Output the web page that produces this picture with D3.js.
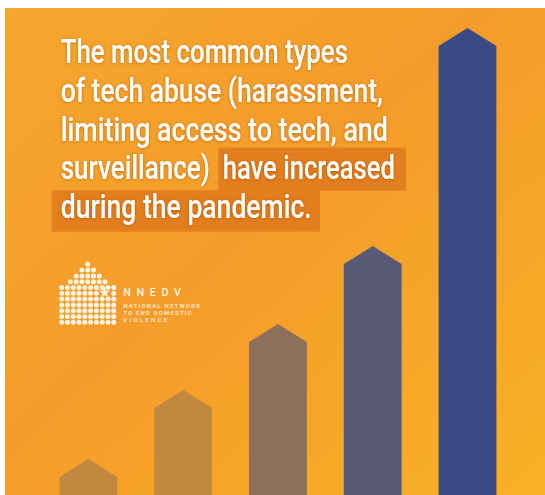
<!DOCTYPE html>
<html>
<head>
<meta charset="utf-8">
<script src="https://cdn.jsdelivr.net/npm/d3@7"></script>
<style>
  html, body { margin: 0; padding: 0; background: #ffffff; }
  svg { display: block; }
</style>
</head>
<body>
<svg id="chart" width="545" height="495"></svg>
<script>
// ---- data ----
const categories = ["Level 1", "Level 2", "Level 3", "Level 4", "Level 5"];
const values = [7.7, 22.5, 36.6, 53.3, 100];
const barColors = ["#C2883F", "#C3883F", "#8C705B", "#5A5A77", "#3A4A84"];
const titleLines = [
  "The most common types",
  "of tech abuse (harassment,",
  "limiting access to tech, and",
  "surveillance)",
  "during the pandemic."
];
const highlightText = "have increased";
const logoTitle = "NNEDV";
const logoLines = ["NATIONAL NETWORK", "TO END DOMESTIC", "VIOLENCE"];

// ---- drawing ----
const svg = d3.select("#chart");
const W = 545, H = 495;
const defs = svg.append("defs");

const bg = defs.append("linearGradient").attr("id", "bg")
  .attr("x1", "0%").attr("y1", "0%").attr("x2", "100%").attr("y2", "100%");
bg.append("stop").attr("offset", "0%").attr("stop-color", "#F6A72C");
bg.append("stop").attr("offset", "45%").attr("stop-color", "#F49C2A");
bg.append("stop").attr("offset", "100%").attr("stop-color", "#F8B125");

const glow = defs.append("filter").attr("id", "glow")
  .attr("x", "-10%").attr("y", "-30%").attr("width", "120%").attr("height", "160%");
glow.append("feDropShadow").attr("dx", 0).attr("dy", 0.5)
  .attr("stdDeviation", 1.6).attr("flood-color", "#8a4200").attr("flood-opacity", 0.55);

svg.append("rect").attr("x", 5).attr("y", 8).attr("width", W - 5).attr("height", H - 8)
  .attr("fill", "url(#bg)");

// bars (arrows)
const x = d3.scaleBand().domain(categories).range([59.5, 496.4]).paddingInner(0.39).paddingOuter(0);
const y = d3.scaleLinear().domain([0, 100]).range([495, 28]);
const head = 18;
svg.append("g").selectAll("path").data(categories).join("path")
  .attr("d", (c, i) => {
    const x0 = x(c), x1 = x(c) + x.bandwidth(), xm = x(c) + x.bandwidth() / 2;
    const top = y(values[i]);
    return `M${x0},${H + 5}L${x0},${top + head}L${xm},${top}L${x1},${top + head}L${x1},${H + 5}Z`;
  })
  .attr("fill", (c, i) => barColors[i]);

// highlight boxes
svg.append("rect").attr("x", 218.3).attr("y", 147.7).attr("width", 187.7).attr("height", 43)
  .attr("fill", "#DF7C1D").attr("opacity", 0.92);
svg.append("rect").attr("x", 51.7).attr("y", 190.3).attr("width", 268.3).attr("height", 41.4)
  .attr("fill", "#DF7C1D").attr("opacity", 0.92);

// title text, each piece compressed horizontally to its measured width
const tg = svg.append("g").attr("filter", "url(#glow)")
  .attr("font-family", "Roboto, 'Noto Sans', sans-serif")
  .attr("font-weight", 500).attr("font-size", 33.5).attr("fill", "#ffffff");
const lineBase = [62.7, 101.6, 140.5, 179.4, 218.3];
const pieces = titleLines.map((t, i) => ({ t, x: 60.7, y: lineBase[i], w: [287.3, 322.3, 327.3, 149.3, 251][i] }));
pieces.push({ t: highlightText, x: 222.7, y: lineBase[3], w: 172.3 });
pieces.forEach(p => {
  const tx = tg.append("text").attr("x", 0).attr("y", 0).text(p.t);
  const nat = tx.node().getComputedTextLength();
  tx.attr("transform", `translate(${p.x},${p.y}) scale(${p.w / nat},1)`);
});

// logo: house of dots
const logo = svg.append("g");
const cx0 = 61.7, dxs = 5.78, cy0 = 264.3, dys = 5.8;
const center = cx0 + dxs * 4.5;
const starX = 104.6, starY = 292.6;
const dots = [];
for (let j = 0; j < 4; j++) {
  const n = 2 * j + 1;
  for (let k = 0; k < n; k++) dots.push([center + (k - (n - 1) / 2) * dxs, cy0 + j * dys]);
}
for (let j = 4; j < 11; j++) {
  for (let i = 0; i < 10; i++) dots.push([cx0 + i * dxs, cy0 + j * dys]);
}
logo.selectAll("circle").data(dots.filter(d => Math.hypot(d[0] - starX, d[1] - starY) > 5))
  .join("circle").attr("cx", d => d[0]).attr("cy", d => d[1]).attr("r", 2.5).attr("fill", "#FFF4E4");
const star = d3.symbol().type(d3.symbolStar).size(42);
logo.append("path").attr("d", star()).attr("transform", `translate(${starX},${starY})`).attr("fill", "#FFF4E4");

logo.append("text").attr("x", 123.3).attr("y", 295.8)
  .attr("font-family", "Roboto, sans-serif").attr("font-size", 10.8).attr("font-weight", 500)
  .attr("fill", "#FFF4E4").attr("textLength", 57.7).attr("lengthAdjust", "spacing").text(logoTitle);
const logoBase = [308.3, 315.3, 321.9];
const logoLen = [76.7, 68.4, 43.7];
logoLines.forEach((t, i) => {
  logo.append("text").attr("x", 123.3).attr("y", logoBase[i])
    .attr("font-family", "Roboto, sans-serif").attr("font-size", 6).attr("font-weight", 700)
    .attr("fill", "#FCE4C4").attr("textLength", logoLen[i]).attr("lengthAdjust", "spacing").text(t);
});
</script>
</body>
</html>
